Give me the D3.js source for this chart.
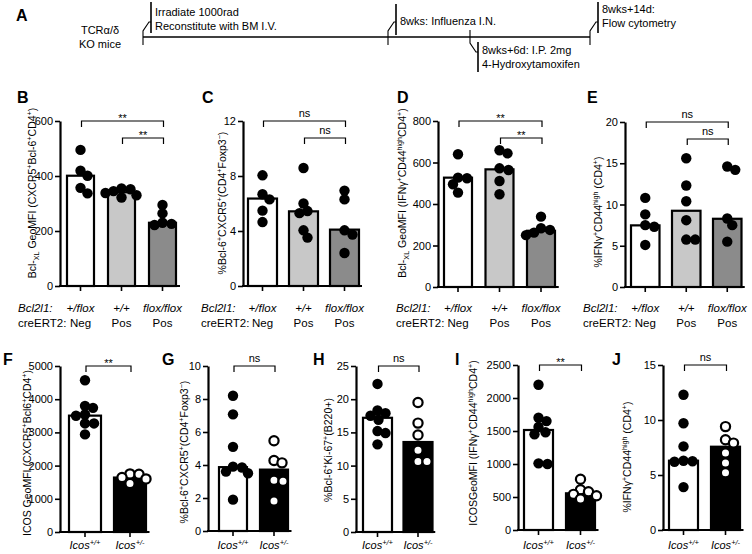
<!DOCTYPE html>
<html><head><meta charset="utf-8">
<script src="https://cdn.jsdelivr.net/npm/d3@7"></script>
<style>
body{margin:0;background:#fff}
svg{display:block}
text{font-family:"Liberation Sans",Arial,Helvetica,sans-serif;fill:#000}
.narrow{font-family:"Liberation Sans Narrow","Arial Narrow","Liberation Sans",sans-serif;font-size:11px}
</style>
</head><body>
<svg id="chart" width="752" height="554"></svg>
<script>
// ---------------- DATA ----------------
const bcl2l1Labels = ["+/flox", "+/+", "flox/flox"];
const creLabels = ["Neg", "Pos", "Pos"];
const icosLabels = ["+/+", "+/-"];

const B_bars = [401, 341, 230];
const B_points = [[495, 419, 401, 357, 337], [355, 352, 345, 338, 330, 322], [295, 264, 230, 226, 222]];
const B_ticks = [0, 200, 400, 600];

const C_bars = [6.36, 5.43, 4.1];
const C_points = [[8.05, 6.67, 6.3, 5.48, 4.65], [8.58, 6.0, 5.45, 5.3, 4.05, 3.52], [6.94, 6.3, 4.05, 3.74, 2.4]];
const C_ticks = [0, 4, 8, 12];

const D_bars = [527, 567, 271];
const D_points = [[640, 527, 524, 495, 455], [659, 644, 572, 564, 511, 447], [339, 283, 275, 262, 250]];
const D_ticks = [0, 200, 400, 600, 800];

const E_bars = [7.47, 9.24, 8.27];
const E_points = [[10.8, 8.8, 7.5, 7.3, 5.1], [15.6, 12.3, 10.4, 8.1, 5.75, 5.75], [14.6, 14.2, 8.3, 7.5, 5.5]];
const E_ticks = [0, 5, 10, 15, 20];

const F_bars = [3505, 1640];
const F_points = [[4570, 3800, 3740, 3540, 3500, 3270, 3270, 2940], [1750, 1740, 1640, 1600, 1460]];
const F_ticks = [0, 1000, 2000, 3000, 4000, 5000];

const G_bars = [3.87, 3.72];
const G_points = [[8.2, 7.07, 5.1, 3.9, 3.85, 3.6, 3.5, 1.9], [5.47, 4.27, 4.13, 3.08, 3.02, 1.82]];
const G_ticks = [0, 2, 4, 6, 8, 10];

const H_bars = [17.2, 13.55];
const H_points = [[22.3, 18.3, 17.9, 17.5, 16.9, 15.2, 14.9, 13.2], [19.5, 16.4, 14.6, 12.3, 10.6, 10.6]];
const H_ticks = [0, 5, 10, 15, 20, 25];

const I_bars = [1515, 556];
const I_points = [[2200, 1700, 1650, 1560, 1480, 1450, 1010, 1000], [770, 610, 580, 540, 520, 470]];
const I_ticks = [0, 500, 1000, 1500, 2000, 2500];

const J_bars = [6.3, 7.57];
const J_points = [[12.3, 9.7, 7.6, 6.3, 6.25, 6.2, 3.9], [9.4, 8.2, 7.9, 7.0, 6.1, 5.2]];
const J_ticks = [0, 5, 10, 15];

// significance: [label, fromGroup, toGroup]
const B_sig = [["**", 0, 2], ["**", 1, 2]];
const C_sig = [["ns", 0, 2], ["ns", 1, 2]];
const D_sig = [["**", 0, 2], ["**", 1, 2]];
const E_sig = [["ns", 0, 2], ["ns", 1, 2]];
const F_sig = [["**", 0, 1]];
const G_sig = [["ns", 0, 1]];
const H_sig = [["ns", 0, 1]];
const I_sig = [["**", 0, 1]];
const J_sig = [["ns", 0, 1]];

// axis titles: [text, kind] kind: "" normal, "sup", "sub"
const lbl_BclCXCR5 = [["Bcl-",""],["XL","sub"],[" GeoMFI (CXCR5",""],["+","sup"],["Bcl-6",""],["+","sup"],["CD4",""],["+","sup"],[")",""]];
const lbl_Tfr = [["%Bcl-6",""],["+","sup"],["CXCR5",""],["+","sup"],["(CD4",""],["+","sup"],["Foxp3",""],["\u2212","sup"],[")",""]];
const lbl_BclIFN = [["Bcl-",""],["XL","sub"],[" GeoMFI (IFN\u03b3",""],["+","sup"],["CD44",""],["high","sup"],["CD4",""],["+","sup"],[")",""]];
const lbl_IFN = [["%IFN\u03b3",""],["+","sup"],["CD44",""],["high","sup"],[" (CD4",""],["+","sup"],[")",""]];
const lbl_ICOSTfh = [["ICOS GeoMFI (CXCR5",""],["+","sup"],["Bcl6",""],["+","sup"],["CD4",""],["+","sup"],[")",""]];
const lbl_GC = [["%Bcl-6",""],["+","sup"],["Ki-67",""],["+","sup"],["(B220+)",""]];
const lbl_ICOSIFN = [["ICOSGeoMFI (IFN\u03b3",""],["+","sup"],["CD44",""],["high","sup"],["CD4",""],["+","sup"],[")",""]];

const timelineEvents = [
  ["Irradiate 1000rad", "Reconstitute with BM I.V."],
  ["8wks: Influenza I.N."],
  ["8wks+6d: I.P. 2mg", "4-Hydroxytamoxifen"],
  ["8wks+14d:", "Flow cytometry"]
];
const timelineStart = ["TCR\u03b1/\u03b4", "KO mice"];

// ---------------- LAYOUT ----------------
const topFills = ["#ffffff", "#c8c8c8", "#8b8b8b"];
const botFills = ["#ffffff", "#000000"];

const panels = [
  {id:"B", row:"top", bars:B_bars, pts:B_points, ticks:B_ticks, sig:B_sig, title:lbl_BclCXCR5,
   L:{x0:60, first:67, bw:27, step:41, y0:286, yt:121, lx:32, ly:193, letter:[17,103]}},
  {id:"C", row:"top", bars:C_bars, pts:C_points, ticks:C_ticks, sig:C_sig, title:lbl_Tfr,
   L:{x0:243, first:248, bw:29, step:41, y0:286, yt:121, lx:222, ly:203, letter:[202,103]}},
  {id:"D", row:"top", bars:D_bars, pts:D_points, ticks:D_ticks, sig:D_sig, title:lbl_BclIFN,
   L:{x0:438, first:444, bw:28, step:41.5, y0:287, yt:121, lx:402, ly:193, letter:[397,103]}},
  {id:"E", row:"top", bars:E_bars, pts:E_points, ticks:E_ticks, sig:E_sig, title:lbl_IFN,
   L:{x0:625, first:631, bw:28.5, step:41, y0:287, yt:122, lx:598, ly:212, letter:[587,103]}},
  {id:"F", row:"bot", bars:F_bars, pts:F_points, ticks:F_ticks, sig:F_sig, title:lbl_ICOSTfh,
   L:{x0:60, first:69, bw:32, step:45, y0:532, yt:366, lx:27, ly:453, letter:[3,365]}},
  {id:"G", row:"bot", bars:G_bars, pts:G_points, ticks:G_ticks, sig:G_sig, title:lbl_Tfr,
   L:{x0:208, first:219, bw:28, step:41, y0:531, yt:366, lx:184, ly:452, letter:[162,365]}},
  {id:"H", row:"bot", bars:H_bars, pts:H_points, ticks:H_ticks, sig:H_sig, title:lbl_GC,
   L:{x0:356, first:363, bw:29, step:40.5, y0:532, yt:366, lx:328, ly:450, letter:[313,365]}},
  {id:"I", row:"bot", bars:I_bars, pts:I_points, ticks:I_ticks, sig:I_sig, title:lbl_ICOSIFN,
   L:{x0:518, first:524, bw:29, step:42, y0:530, yt:365, lx:473, ly:443, letter:[455,365]}},
  {id:"J", row:"bot", bars:J_bars, pts:J_points, ticks:J_ticks, sig:J_sig, title:lbl_IFN,
   L:{x0:663, first:669, bw:29, step:42, y0:530, yt:365, lx:627, ly:457, letter:[612,365]}}
];

const svg = d3.select("#chart");

function richText(sel, parts, size) {
  let shift = 0;
  parts.forEach(([t, k]) => {
    const target = k === "sup" ? -4 : (k === "sub" ? 2.5 : 0);
    sel.append("tspan")
      .attr("dy", target - shift)
      .attr("font-size", k ? size * 0.68 : size)
      .text(t);
    shift = target;
  });
}

function swarm(vals, y, cx, r) {
  const placed = [];
  const minD = 2 * r * 0.82;
  return vals.map(v => {
    const py = y(v);
    let off = 0;
    for (let k = 0; k < 60; k++) {
      const cand = k === 0 ? 0 : (k % 2 ? 1 : -1) * Math.ceil(k / 2);
      const px = cx + cand;
      if (placed.every(p => (p[0]-px)**2 + (p[1]-py)**2 >= minD*minD)) { off = cand; break; }
    }
    const pt = [cx + off, py];
    placed.push(pt);
    return pt;
  });
}

panels.forEach(P => {
  const L = P.L;
  const g = svg.append("g");
  const n = P.bars.length;
  const groups = d3.range(n);
  const r0 = L.first - (L.step - L.bw) / 2;
  const x = d3.scaleBand().domain(groups).range([r0, r0 + n * L.step])
    .paddingInner((L.step - L.bw) / L.step).paddingOuter((L.step - L.bw) / L.step / 2);
  const y = d3.scaleLinear().domain([0, d3.max(P.ticks)]).range([L.y0, L.yt]);
  const fills = P.row === "top" ? topFills : botFills;

  // bars
  g.selectAll("rect.bar").data(P.bars).join("rect")
    .attr("x", (d, i) => x(i)).attr("width", x.bandwidth())
    .attr("y", d => y(d)).attr("height", d => L.y0 - y(d))
    .attr("fill", (d, i) => fills[i]).attr("stroke", "#000").attr("stroke-width", 2.2);

  // points
  P.pts.forEach((vals, gi) => {
    const pos = swarm(vals, y, x(gi) + x.bandwidth() / 2, 5);
    const open = P.row === "bot" && gi === 1;
    g.selectAll(null).data(pos).join("circle")
      .attr("cx", d => d[0]).attr("cy", d => d[1])
      .attr("r", open ? 4.6 : 5.2)
      .attr("fill", open ? "#fff" : "#000")
      .attr("stroke", "#000").attr("stroke-width", open ? 2.2 : 0);
  });

  // y axis
  const ya = g.append("g").attr("transform", `translate(${L.x0},0)`)
    .call(d3.axisLeft(y).tickValues(P.ticks).tickSize(5).tickSizeOuter(0).tickPadding(2).tickFormat(d3.format("d")));
  ya.select(".domain").attr("stroke-width", 2.2);
  ya.selectAll(".tick line").attr("stroke-width", 1.6);
  ya.selectAll(".tick text").attr("font-size", 11).attr("font-family", "Liberation Sans, Arial, sans-serif");

  // x axis
  const xa = g.append("g").attr("transform", `translate(0,${L.y0})`)
    .call(d3.axisBottom(x).tickSize(5).tickSizeOuter(0).tickFormat(""));
  xa.select(".domain").attr("d", `M${L.x0 - 1},0H${r0 + n * L.step - 3}`).attr("stroke-width", 2.2);
  xa.selectAll(".tick line").attr("stroke-width", 1.6);

  // x labels
  if (P.row === "top") {
    g.append("text").attr("x", L.x0 - 42).attr("y", 312).attr("font-size", 11.5)
      .attr("font-style", "italic").text("Bcl2l1:");
    g.append("text").attr("x", L.x0 - 42).attr("y", 327).attr("font-size", 11.5).text("creERT2:");
    groups.forEach(i => {
      const cx = x(i) + x.bandwidth() / 2;
      g.append("text").attr("x", cx).attr("y", 312).attr("font-size", 11.5)
        .attr("text-anchor", "middle").attr("font-style", "italic").text(bcl2l1Labels[i]);
      g.append("text").attr("x", cx).attr("y", 327).attr("font-size", 11.5)
        .attr("text-anchor", "middle").text(creLabels[i]);
    });
  } else {
    groups.forEach(i => {
      const cx = x(i) + x.bandwidth() / 2;
      const t = g.append("text").attr("x", cx).attr("y", 549).attr("font-size", 11)
        .attr("text-anchor", "middle").attr("font-style", "italic");
      richText(t, [["Icos", ""], [icosLabels[i], "sup"]], 11);
    });
  }

  // y title
  const tt = g.append("text").attr("transform", `translate(${L.lx},${L.ly}) rotate(-90)`)
    .attr("text-anchor", "middle").attr("y", 4).attr("font-size", 10.5);
  richText(tt, P.title, 10.5);

  // panel letter
  g.append("text").attr("x", L.letter[0]).attr("y", L.letter[1])
    .attr("font-size", 16).attr("font-weight", "bold").text(P.id);

  // significance brackets
  P.sig.forEach(([lab, a, b], k) => {
    const yb = L.yt + k * 17;
    const xa1 = x(a) + x.bandwidth() / 2 + 1, xb1 = x(b) + x.bandwidth() / 2 + 1;
    g.append("path").attr("d", `M${xa1},${yb + 6}V${yb}H${xb1}V${yb + 6}`)
      .attr("fill", "none").attr("stroke", "#000").attr("stroke-width", 1.2);
    g.append("text").attr("x", (xa1 + xb1) / 2).attr("y", lab === "**" ? yb + 0.5 : yb - 4)
      .attr("text-anchor", "middle").attr("font-size", 11).text(lab);
  });
});

// ---------------- Timeline (panel A) ----------------
const tl = svg.append("g");
const lineY = 37, lx0 = 143, lx1 = 590;
tl.append("text").attr("x", 16).attr("y", 21).attr("font-size", 16).attr("font-weight", "bold").text("A");
tl.append("line").attr("x1", lx0).attr("x2", lx1).attr("y1", lineY).attr("y2", lineY)
  .attr("stroke", "#000").attr("stroke-width", 1.3);
timelineStart.forEach((t, i) => tl.append("text").attr("class", "narrow").attr("x", 100).attr("y", 34 + i * 14)
  .attr("text-anchor", "middle").attr("font-size", 11).text(t));

const evX = [143, 388, 470, 590];
const evAbove = [true, true, false, true];
timelineEvents.forEach((lines, i) => {
  const ex = evX[i];
  if (evAbove[i]) {
    tl.append("path").attr("d", `M${ex},${lineY + 8}V${lineY - 6}L${ex + 6},${lineY - 15}H${ex + 8}`)
      .attr("stroke", "#000").attr("stroke-width", 1.1).attr("fill", "none");
    const top = lines.length === 1 ? 4 : 2;
    const bot = lines.length === 1 ? 35 : 33;
    tl.append("line").attr("x1", ex + 8).attr("x2", ex + 8).attr("y1", top).attr("y2", bot)
      .attr("stroke", "#000").attr("stroke-width", 1.6);
    lines.forEach((t, j) => tl.append("text").attr("class", "narrow")
      .attr("x", ex + 12).attr("y", (lines.length === 1 ? 25 : (i === 3 ? 13 : 16)) + j * 14).text(t));
  } else {
    tl.append("path").attr("d", `M${ex},${lineY - 7}V${lineY + 6}L${ex + 6},${lineY + 15}H${ex + 8}`)
      .attr("stroke", "#000").attr("stroke-width", 1.1).attr("fill", "none");
    tl.append("line").attr("x1", ex + 8).attr("x2", ex + 8).attr("y1", 42).attr("y2", 72)
      .attr("stroke", "#000").attr("stroke-width", 1.6);
    lines.forEach((t, j) => tl.append("text").attr("class", "narrow")
      .attr("x", ex + 12).attr("y", 54 + j * 14).text(t));
  }
});
</script>
</body></html>
